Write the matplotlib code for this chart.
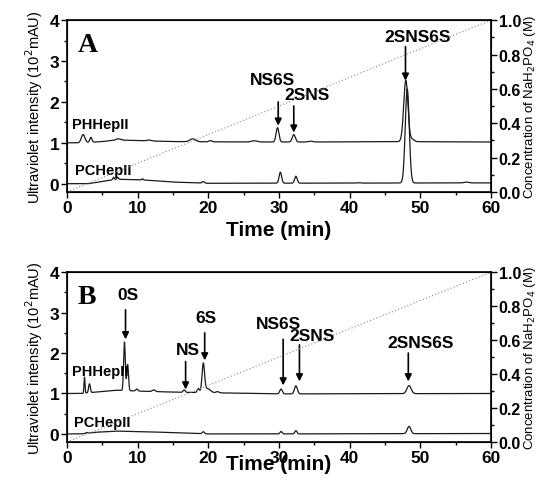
import numpy as np
import matplotlib
matplotlib.use("Agg")
import matplotlib.pyplot as plt
from matplotlib.ticker import MultipleLocator

plt.rcParams['font.family'] = ['Liberation Sans', 'DejaVu Sans']

# --- data (retention time min, height 10^2 mAU, sigma min)
a_ph_base_t = [0, 2, 5, 7, 9, 15, 25, 35, 47, 60]
a_ph_base_y = [1.0, 1.0, 1.03, 1.07, 1.06, 1.03, 1.02, 1.02, 1.03, 1.02]
a_ph_peak_t = [2.3, 3.4, 7.3, 11.6, 17.8, 20.3, 26.5, 29.8, 32.1, 34.5, 47.95, 48.9]
a_ph_peak_h = [0.20, 0.12, 0.03, 0.02, 0.07, 0.03, 0.03, 0.35, 0.18, 0.02, 1.50, 0.06]
a_ph_peak_w = [0.25, 0.15, 0.3, 0.3, 0.4, 0.2, 0.4, 0.2, 0.22, 0.3, 0.3, 0.25]

a_pc_base_t = [0, 3, 6, 7, 11, 15, 20, 60]
a_pc_base_y = [0.0, 0.0, 0.08, 0.11, 0.09, 0.04, 0.01, 0.02]
a_pc_peak_t = [6.6, 7.2, 10.7, 19.3, 30.2, 32.4, 41.3, 48.15, 56.5]
a_pc_peak_h = [0.06, 0.05, 0.03, 0.04, 0.27, 0.17, 0.01, 2.3, 0.02]
a_pc_peak_w = [0.1, 0.1, 0.1, 0.15, 0.18, 0.18, 0.2, 0.28, 0.3]

b_ph_base_t = [0, 2, 5, 7, 10, 12, 16, 20, 30, 60]
b_ph_base_y = [1.0, 1.0, 1.05, 1.08, 1.06, 1.05, 1.03, 1.02, 0.99, 1.0]
b_ph_peak_t = [2.5, 3.2, 8.15, 8.6, 9.9, 12.3, 16.6, 18.6, 19.3, 19.9, 21.3, 30.3, 32.4, 48.4]
b_ph_peak_h = [0.40, 0.22, 1.20, 0.65, 0.05, 0.04, 0.06, 0.10, 0.70, 0.10, 0.03, 0.12, 0.20, 0.20]
b_ph_peak_w = [0.07, 0.12, 0.12, 0.12, 0.15, 0.2, 0.15, 0.15, 0.18, 0.4, 0.2, 0.18, 0.2, 0.3]

b_pc_base_t = [0, 2, 4, 7, 12, 20, 30, 60]
b_pc_base_y = [0.0, 0.0, 0.04, 0.07, 0.05, 0.0, 0.0, 0.01]
b_pc_peak_t = [2.8, 19.3, 30.3, 32.4, 48.4]
b_pc_peak_h = [0.02, 0.05, 0.06, 0.08, 0.18]
b_pc_peak_w = [0.1, 0.15, 0.15, 0.15, 0.25]

# NaH2PO4 gradient
grad_t = [0, 60]
grad_c = [0.0, 1.0]

# annotations: label, text x, text y, arrow x, arrow start y, arrow end y
a_labels = [("NS6S", 29.1, 2.56, 29.9, 2.0, 1.42),
            ("2SNS", 33.9, 2.17, 32.1, 1.9, 1.25),
            ("2SNS6S", 49.6, 3.59, 47.9, 3.35, 2.52)]
b_labels = [("0S", 8.6, 3.46, 8.3, 3.07, 2.34),
            ("NS", 17.1, 2.09, 16.8, 1.79, 1.10),
            ("6S", 19.7, 2.88, 19.5, 2.5, 1.82),
            ("NS6S", 30.0, 2.73, 30.6, 2.34, 1.20),
            ("2SNS", 34.7, 2.44, 32.9, 2.2, 1.30),
            ("2SNS6S", 50.0, 2.26, 48.3, 2.0, 1.30)]

t = np.linspace(0, 60, 4001)


def trace(bt, by, pt, ph, pw):
    y = np.interp(t, bt, by)
    for c, h, w in zip(pt, ph, pw):
        y = y + h * np.exp(-0.5 * ((t - c) / w) ** 2)
    return y


def style_ticks(ax, size=12.5):
    ax.tick_params(which='both', direction='out', labelsize=size, width=1, pad=1.5)
    ax.tick_params(which='major', length=4)
    ax.tick_params(which='minor', length=2.5)


def panel(ax, letter, ph, pc, labels, ph_lbl, pc_lbl):
    ax.plot(t, ph, color='#1a1a1a', lw=0.9)
    ax.plot(t, pc, color='#1a1a1a', lw=0.9)
    ax.set_xlim(0, 60)
    ax.set_ylim(-0.2, 4)
    ax.xaxis.set_major_locator(MultipleLocator(10))
    ax.xaxis.set_minor_locator(MultipleLocator(5))
    ax.yaxis.set_major_locator(MultipleLocator(1))
    ax.yaxis.set_minor_locator(MultipleLocator(0.5))
    style_ticks(ax)
    for lab in ax.get_xticklabels() + ax.get_yticklabels():
        lab.set_fontweight('bold')
    ax.set_ylabel("Ultraviolet intensity (10$^{2}$mAU)", fontsize=10.5, labelpad=3)
    ax.text(0.025, 0.93, letter, transform=ax.transAxes, fontsize=20,
            fontweight='bold', family='Liberation Serif', va='top')
    ax.text(ph_lbl[0], ph_lbl[1], "PHHepII", fontsize=10.5, fontweight='bold', va='center')
    ax.text(pc_lbl[0], pc_lbl[1], "PCHepII", fontsize=10.5, fontweight='bold', va='center')
    for name, tx, ty, axx, y0, y1 in labels:
        ax.text(tx, ty, name, fontsize=12.5, fontweight='bold', ha='center', va='center')
        ax.annotate("", xy=(axx, y1), xytext=(axx, y0),
                    arrowprops=dict(arrowstyle='-|>', color='black', lw=1.2,
                                    mutation_scale=10, shrinkA=0, shrinkB=0))
    for s in ax.spines.values():
        s.set_linewidth(1.2)

    ax2 = ax.twinx()
    ax2.plot(grad_t, grad_c, color='#888888', lw=0.8, ls=(0, (1, 2)))
    ax2.set_ylim(0, 1.0)
    ax2.yaxis.set_minor_locator(MultipleLocator(0.1))
    style_ticks(ax2, 11.5)
    ax2.set_yticks(np.arange(0, 1.01, 0.2))
    ax2.set_yticklabels([f"{v:.1f}" for v in np.arange(0, 1.01, 0.2)], fontweight='bold')
    ax2.set_ylabel("Concentration of NaH$_2$PO$_4$ (M)", fontsize=9.5,
                   va='center', rotation=90)
    ax2.yaxis.set_label_coords(1.093, 0.5)
    return ax2


fig = plt.figure(figsize=(5.39, 4.81), dpi=100)
ax_a = fig.add_axes([0.124, 0.599, 0.787, 0.357])
ax_b = fig.add_axes([0.124, 0.079, 0.787, 0.353])

panel(ax_a, "A",
      trace(a_ph_base_t, a_ph_base_y, a_ph_peak_t, a_ph_peak_h, a_ph_peak_w),
      trace(a_pc_base_t, a_pc_base_y, a_pc_peak_t, a_pc_peak_h, a_pc_peak_w),
      a_labels, (0.8, 1.46), (1.1, 0.34))
panel(ax_b, "B",
      trace(b_ph_base_t, b_ph_base_y, b_ph_peak_t, b_ph_peak_h, b_ph_peak_w),
      trace(b_pc_base_t, b_pc_base_y, b_pc_peak_t, b_pc_peak_h, b_pc_peak_w),
      b_labels, (0.8, 1.55), (0.95, 0.29))

ax_a.set_xlabel("Time (min)", fontsize=15, fontweight='bold', labelpad=4)
ax_b.set_xlabel("Time (min)", fontsize=15, fontweight='bold', labelpad=-8)

fig.savefig("out.png", dpi=100)
